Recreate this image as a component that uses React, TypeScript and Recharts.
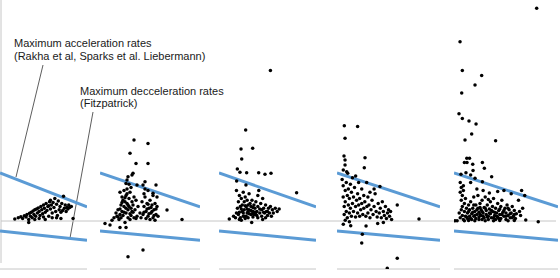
import { ScatterChart, Scatter, XAxis, YAxis } from 'recharts';

// speed (0-100 within each panel) vs acceleration
const limitSpeeds = [0, 100];
const maxAccel = [3.0, 0.88];
const maxDecel = [-0.62, -1.2];
const zeroAccel = [0, 0];

const panel1 = [
    [17, 0.13], [21, 0.2], [24, 0.27], [26, 0.15], [28, 0.33], [30, 0.25], [31, 0.4], [33, 0.1], [34, 0.48], [35, 0.3],
    [36, 0.55], [37, 0.2], [38, 0.62], [39, 0.4], [40, 0.7], [41, 0.3], [42, 0.75], [43, 0.5], [44, 0.82], [45, 0.6],
    [46, 0.35], [47, 0.9], [48, 0.7], [49, 0.45], [50, 1.0], [51, 0.8], [52, 0.55], [53, 1.1], [54, 0.65], [55, 0.9],
    [56, 0.3], [57, 1.2], [58, 0.75], [59, 1.0], [60, 0.5], [61, 1.15], [62, 0.85], [63, 1.4], [64, 0.6], [65, 1.05],
    [66, 0.35], [67, 1.25], [68, 0.7], [69, 0.9], [70, 0.55], [71, 1.1], [72, 0.65], [73, 1.55], [74, 0.8], [75, 1.0],
    [76, 0.6], [77, 0.85], [78, 0.75], [79, 1.0], [80, 0.85], [82, 0.9], [84, 0.15], [33, -0.1], [45, 0.15], [52, 0.1],
    [70, 0.15], [60, 0.2], [40, 0.1], [65, 0.2], [56, 0.95], [58, 1.3], [50, 0.25],
];

const panel2 = [
    [34, 5.06], [48, 4.85], [30, 4.23], [36, 3.6], [48, 3.6], [33, 2.98], [32, 2.88], [28, 2.77], [27, 2.56], [26, 2.35],
    [45, 2.46], [43, 2.25], [37, 2.25], [56, 2.25], [53, 1.73], [67, 0.69], [82, 0.1], [28, -2.23], [43, -1.81], [5, -0.15],
    [10, -0.25], [20, -0.4], [26, -0.4],
    [20, 1.8], [22, 1.5], [24, 1.9], [25, 1.2], [26, 1.6], [27, 2.0], [28, 1.0], [29, 1.4], [30, 1.8], [31, 0.8],
    [32, 1.2], [24, 0.9], [22, 0.6], [20, 0.4], [18, 0.7], [17, 0.3], [19, 0.1], [21, 0.2], [23, 0.35], [26, 0.5],
    [28, 0.7], [30, 0.45], [33, 1.0], [35, 0.7], [36, 1.3], [38, 0.9], [40, 0.5], [34, 0.2], [37, 0.3], [25, -0.1],
    [14, 0.2], [12, 0.05], [16, 0.5], [29, 2.3], [31, 2.1], [27, 1.7], [23, 1.3], [21, 1.0], [26, 0.8], [30, 0.1],
    [32, 0.6], [34, 1.5], [36, 0.15],
    [42, 1.2], [44, 0.9], [45, 1.5], [46, 0.6], [47, 1.1], [48, 0.3], [49, 0.8], [50, 1.3], [51, 0.5], [52, 1.0],
    [53, 0.2], [54, 0.7], [55, 1.1], [56, 0.4], [57, 0.9], [58, 0.3], [43, 0.4], [46, 0.15], [50, 0.1], [53, 1.6],
    [45, 2.0], [48, 1.9], [41, 0.2], [55, 0.05], [57, 1.5], [44, 1.7],
    [25, 1.45], [27, 1.1], [29, 0.9], [24, 0.55], [22, 1.15], [20, 0.75], [18, 0.25], [31, 0.35], [33, 0.55], [28, 0.2],
    [44, 0.55], [47, 0.75], [49, 0.45], [51, 0.85], [54, 0.35], [56, 0.75], [48, 1.05], [52, 0.6],
];

const panel3 = [
    [53, 9.4], [27.5, 5.69], [22.7, 4.5], [34.7, 4.54], [23.4, 3.88], [18.9, 3.25], [21.6, 3.04], [28.5, 3.02], [40.9, 3.02],
    [47.4, 2.92], [53.6, 2.98], [18.2, 2.5], [27.8, 2.25], [80, 1.77], [10.6, 0.12], [33.7, -0.1],
    [15, 0.3], [17, 0.2], [18, 0.5], [19, 0.8], [20, 1.2], [20, 0.4], [21, 1.6], [22, 0.9], [22, 0.2], [23, 1.4],
    [24, 0.6], [24, 1.0], [25, 1.8], [25, 0.3], [26, 1.2], [26, 0.7], [27, 0.15], [27, 1.5], [28, 0.9], [29, 0.5],
    [29, 1.3], [30, 1.0], [30, 0.2], [31, 0.7], [31, 1.7], [32, 1.1], [33, 0.4], [33, 0.9], [34, 1.3], [35, 0.6],
    [35, 0.25], [36, 1.0], [37, 0.8], [38, 0.4], [38, 1.2], [39, 0.6], [40, 0.9], [40, 0.2], [41, 1.9], [42, 0.5],
    [43, 1.1], [44, 0.7], [44, 0.3], [45, 1.4], [46, 0.8], [47, 0.5], [48, 0.2], [48, 1.0], [49, 0.6], [50, 0.35],
    [51, 0.8], [52, 0.5], [53, 0.9], [54, 0.3], [55, 0.7], [56, 0.5], [58, 0.8], [60, 0.6], [62, 0.75], [45, 0.1],
    [40, 1.6], [21, 0.1], [23, 0.05], [28, 0.3], [36, 0.4], [18, 1.9],
    [21, 0.55], [23, 0.75], [25, 0.5], [27, 0.95], [29, 0.75], [31, 0.45], [33, 0.65], [35, 0.85], [37, 0.55], [39, 0.35],
    [42, 0.75], [46, 0.55], [50, 0.6], [26, 0.3], [30, 0.6], [34, 0.45],
];

const panel4 = [
    [7.1, 5.96], [20, 5.9], [7.8, 5.17], [6.8, 4.06], [7.8, 3.81], [7.8, 3.5], [27.2, 3.96], [26.5, 3.33], [6.1, 3.19],
    [9.4, 3.08], [10.4, 2.98], [18.1, 2.81], [28.8, 2.4], [41.7, 2.15], [58.5, 1.0], [79.6, 0.12], [24.6, -0.83],
    [24, -1.37], [58.5, -2.33], [48.8, -2.96], [6.1, -0.21], [13.3, -0.29], [28.2, -0.31], [39.5, -0.15], [45, -0.1],
    [5, 2.6], [6, 2.2], [6, 1.5], [7, 0.9], [7, 0.4], [8, 1.9], [8, 1.2], [9, 2.4], [9, 0.6], [10, 1.6],
    [10, 0.2], [11, 2.0], [11, 1.0], [12, 0.5], [12, 1.4], [13, 2.3], [13, 0.8], [14, 1.8], [14, 0.3], [15, 1.1],
    [16, 0.6], [16, 1.5], [17, 2.1], [18, 0.9], [18, 0.25], [19, 1.3], [20, 0.5], [20, 1.7], [21, 1.0], [22, 0.3],
    [22, 1.4], [23, 0.7], [24, 2.0], [24, 1.1], [25, 0.4], [26, 1.6], [26, 0.8], [27, 1.2], [28, 0.3], [29, 0.9],
    [30, 1.5], [30, 0.5], [31, 1.0], [32, 0.2], [33, 0.7], [34, 1.3], [35, 0.4], [36, 0.9], [37, 1.7], [38, 0.6],
    [39, 0.25], [40, 1.1], [41, 0.5], [42, 0.8], [43, 0.2], [44, 1.2], [45, 0.6], [46, 0.35], [47, 0.9], [48, 0.15],
    [49, 0.5], [50, 0.7], [51, 0.3], [52, 0.6], [53, 0.1], [32, 1.8], [21, 2.4], [15, 2.7], [8, 0.05], [12, -0.05],
    [36, 2.0],
];

const panel5 = [
    [79.5, 13.3], [5.8, 11.2], [8, 9.4], [26.6, 9.1], [20.2, 8.5], [7.4, 8.0], [4.8, 6.7], [8, 6.4], [14.4, 6.25],
    [21.2, 6.06], [17, 5.44], [10.6, 5.06], [40, 5.02], [12.3, 3.92], [14.9, 3.92], [10, 3.65], [12.5, 3.65], [18, 3.54],
    [27.3, 3.65], [29.2, 3.29], [18.3, 3.15], [6.7, 2.92], [11.5, 3.02], [16, 2.88], [36.2, 2.77], [20.2, 2.67],
    [27.3, 2.46], [69, 0.06], [81, -0.04], [1, 0.02],
    [6, 2.4], [7, 2.1], [6, 1.8], [8, 1.6], [7, 1.3], [9, 1.9], [10, 1.1], [8, 0.9], [9, 2.2],
    [5, 0.5], [6, 0.2], [7, 0.7], [8, 0.35], [9, 0.1], [10, 0.6], [11, 0.3], [11, 1.4], [12, 0.8], [13, 0.15],
    [13, 0.5], [14, 1.0], [15, 0.3], [15, 0.7], [16, 1.2], [17, 0.45], [17, 0.1], [18, 0.8], [19, 0.3], [19, 1.5],
    [20, 0.6], [21, 0.15], [21, 1.0], [22, 0.4], [23, 0.8], [23, 1.6], [24, 0.25], [24, 0.55], [25, 1.1], [26, 0.35],
    [26, 0.7], [27, 0.1], [27, 1.3], [28, 0.5], [29, 0.85], [29, 0.2], [30, 1.5], [31, 0.4], [31, 0.65], [32, 1.0],
    [33, 0.3], [33, 0.1], [34, 0.75], [35, 1.2], [35, 0.45], [36, 0.2], [37, 0.9], [37, 0.6], [38, 1.4], [39, 0.35],
    [40, 0.1], [40, 0.8], [41, 0.5], [42, 1.1], [42, 0.25], [43, 0.65], [44, 0.4], [45, 0.9], [45, 0.15], [46, 1.3],
    [47, 0.55], [48, 0.3], [49, 0.8], [50, 0.1], [50, 0.5], [51, 1.0], [52, 0.35], [53, 0.7], [54, 0.2], [55, 0.5],
    [56, 0.9], [57, 0.3], [58, 0.65], [59, 0.15], [60, 0.45], [62, 1.3], [63, 0.6], [64, 0.35], [66, 0.8], [68, 1.6],
    [65, 1.9], [55, 1.7], [48, 1.9], [42, 1.85], [34, 1.75], [28, 1.9], [22, 2.0], [16, 2.4],
    [3, 0.02], [10, 0.02], [14, 0.03], [20, 0.02], [30, 0.02], [38, 0.02], [44, 0.03], [52, 0.02], [58, 0.03],
    [12, 0.25], [14, 0.6], [16, 0.15], [18, 0.55], [20, 0.35], [22, 0.7], [24, 0.1], [25, 0.4], [27, 0.6], [28, 0.3],
    [30, 0.8], [32, 0.25], [34, 0.5], [36, 0.65], [38, 0.2], [39, 0.55], [41, 0.3], [43, 0.15], [44, 0.75], [46, 0.4],
    [48, 0.65], [50, 0.3], [52, 0.8], [54, 0.45], [56, 0.2], [58, 0.4], [33, 1.35], [25, 0.85], [19, 1.0],
];

const panelData = [panel1, panel2, panel3, panel4, panel5];

// where each small chart sits on the page
const panelLayout = [
    { left: 0, width: 87 },
    { left: 100, width: 100 },
    { left: 219, width: 97 },
    { left: 337, width: 103 },
    { left: 454, width: 104 },
];

const BLUE = '#5b9bd5';
const GRAY = '#c6c6c6';
const FONT = '"Liberation Sans", Arial, sans-serif';

const toXY = (pts: number[][]) => pts.map(([x, y]) => ({ x, y }));
const limitLine = (vals: number[]) => limitSpeeds.map((x, i) => ({ x, y: vals[i] }));

const Dot = (p: any) => <circle cx={p.cx} cy={p.cy} r={1.75} fill="#000" />;
const NoDot = () => <g />;

function Panel({ points, left, width }: { points: number[][]; left: number; width: number }) {
    return (
        <div style={{ position: 'absolute', left, top: 0 }}>
            <ScatterChart width={width} height={278} margin={{ top: 5, right: 0, bottom: 8, left: 0 }}>
                <XAxis
                    type="number"
                    dataKey="x"
                    domain={[0, 100]}
                    allowDataOverflow
                    tick={false}
                    tickLine={false}
                    height={1}
                    axisLine={{ stroke: GRAY }}
                />
                <YAxis type="number" dataKey="y" domain={[-3, 13.5]} allowDataOverflow hide />
                <Scatter
                    data={limitLine(maxAccel)}
                    line={{ stroke: BLUE, strokeWidth: 3 }}
                    shape={NoDot}
                    isAnimationActive={false}
                />
                <Scatter
                    data={limitLine(maxDecel)}
                    line={{ stroke: BLUE, strokeWidth: 3 }}
                    shape={NoDot}
                    isAnimationActive={false}
                />
                <Scatter data={toXY(points)} shape={Dot} isAnimationActive={false} />
            </ScatterChart>
        </div>
    );
}

export default function App() {
    return (
        <div style={{ position: 'absolute', left: 0, top: 0, width: 560, height: 278, background: '#fff', fontFamily: FONT }}>
            <div style={{ position: 'absolute', left: 0, top: 0 }}>
                <ScatterChart width={560} height={278} margin={{ top: 0, right: 4, bottom: 15, left: 0 }}>
                    <XAxis type="number" dataKey="x" domain={[0, 100]} hide />
                    <YAxis
                        type="number"
                        dataKey="y"
                        domain={[-2.625, 13.8125]}
                        allowDataOverflow
                        width={1}
                        tick={false}
                        tickLine={false}
                        axisLine={{ stroke: GRAY }}
                    />
                    <Scatter
                        data={limitLine(zeroAccel)}
                        line={{ stroke: GRAY, strokeWidth: 1 }}
                        shape={NoDot}
                        isAnimationActive={false}
                    />
                    <g fontFamily={FONT} fontSize={11} fill="#1a1a1a">
                        <text x={14} y={46.5}>Maximum acceleration rates</text>
                        <text x={14} y={59.5}>(Rakha et al, Sparks et al. Liebermann)</text>
                        <text x={80} y={94.5}>Maximum decceleration rates</text>
                        <text x={80} y={107}>(Fitzpatrick)</text>
                        <line x1={43} y1={65} x2={16} y2={177} stroke="#333" strokeWidth={0.8} />
                        <line x1={93} y1={112} x2={70} y2={238} stroke="#333" strokeWidth={0.8} />
                    </g>
                </ScatterChart>
            </div>
            {panelData.map((pts, i) => (
                <Panel key={i} points={pts} left={panelLayout[i].left} width={panelLayout[i].width} />
            ))}
        </div>
    );
}
